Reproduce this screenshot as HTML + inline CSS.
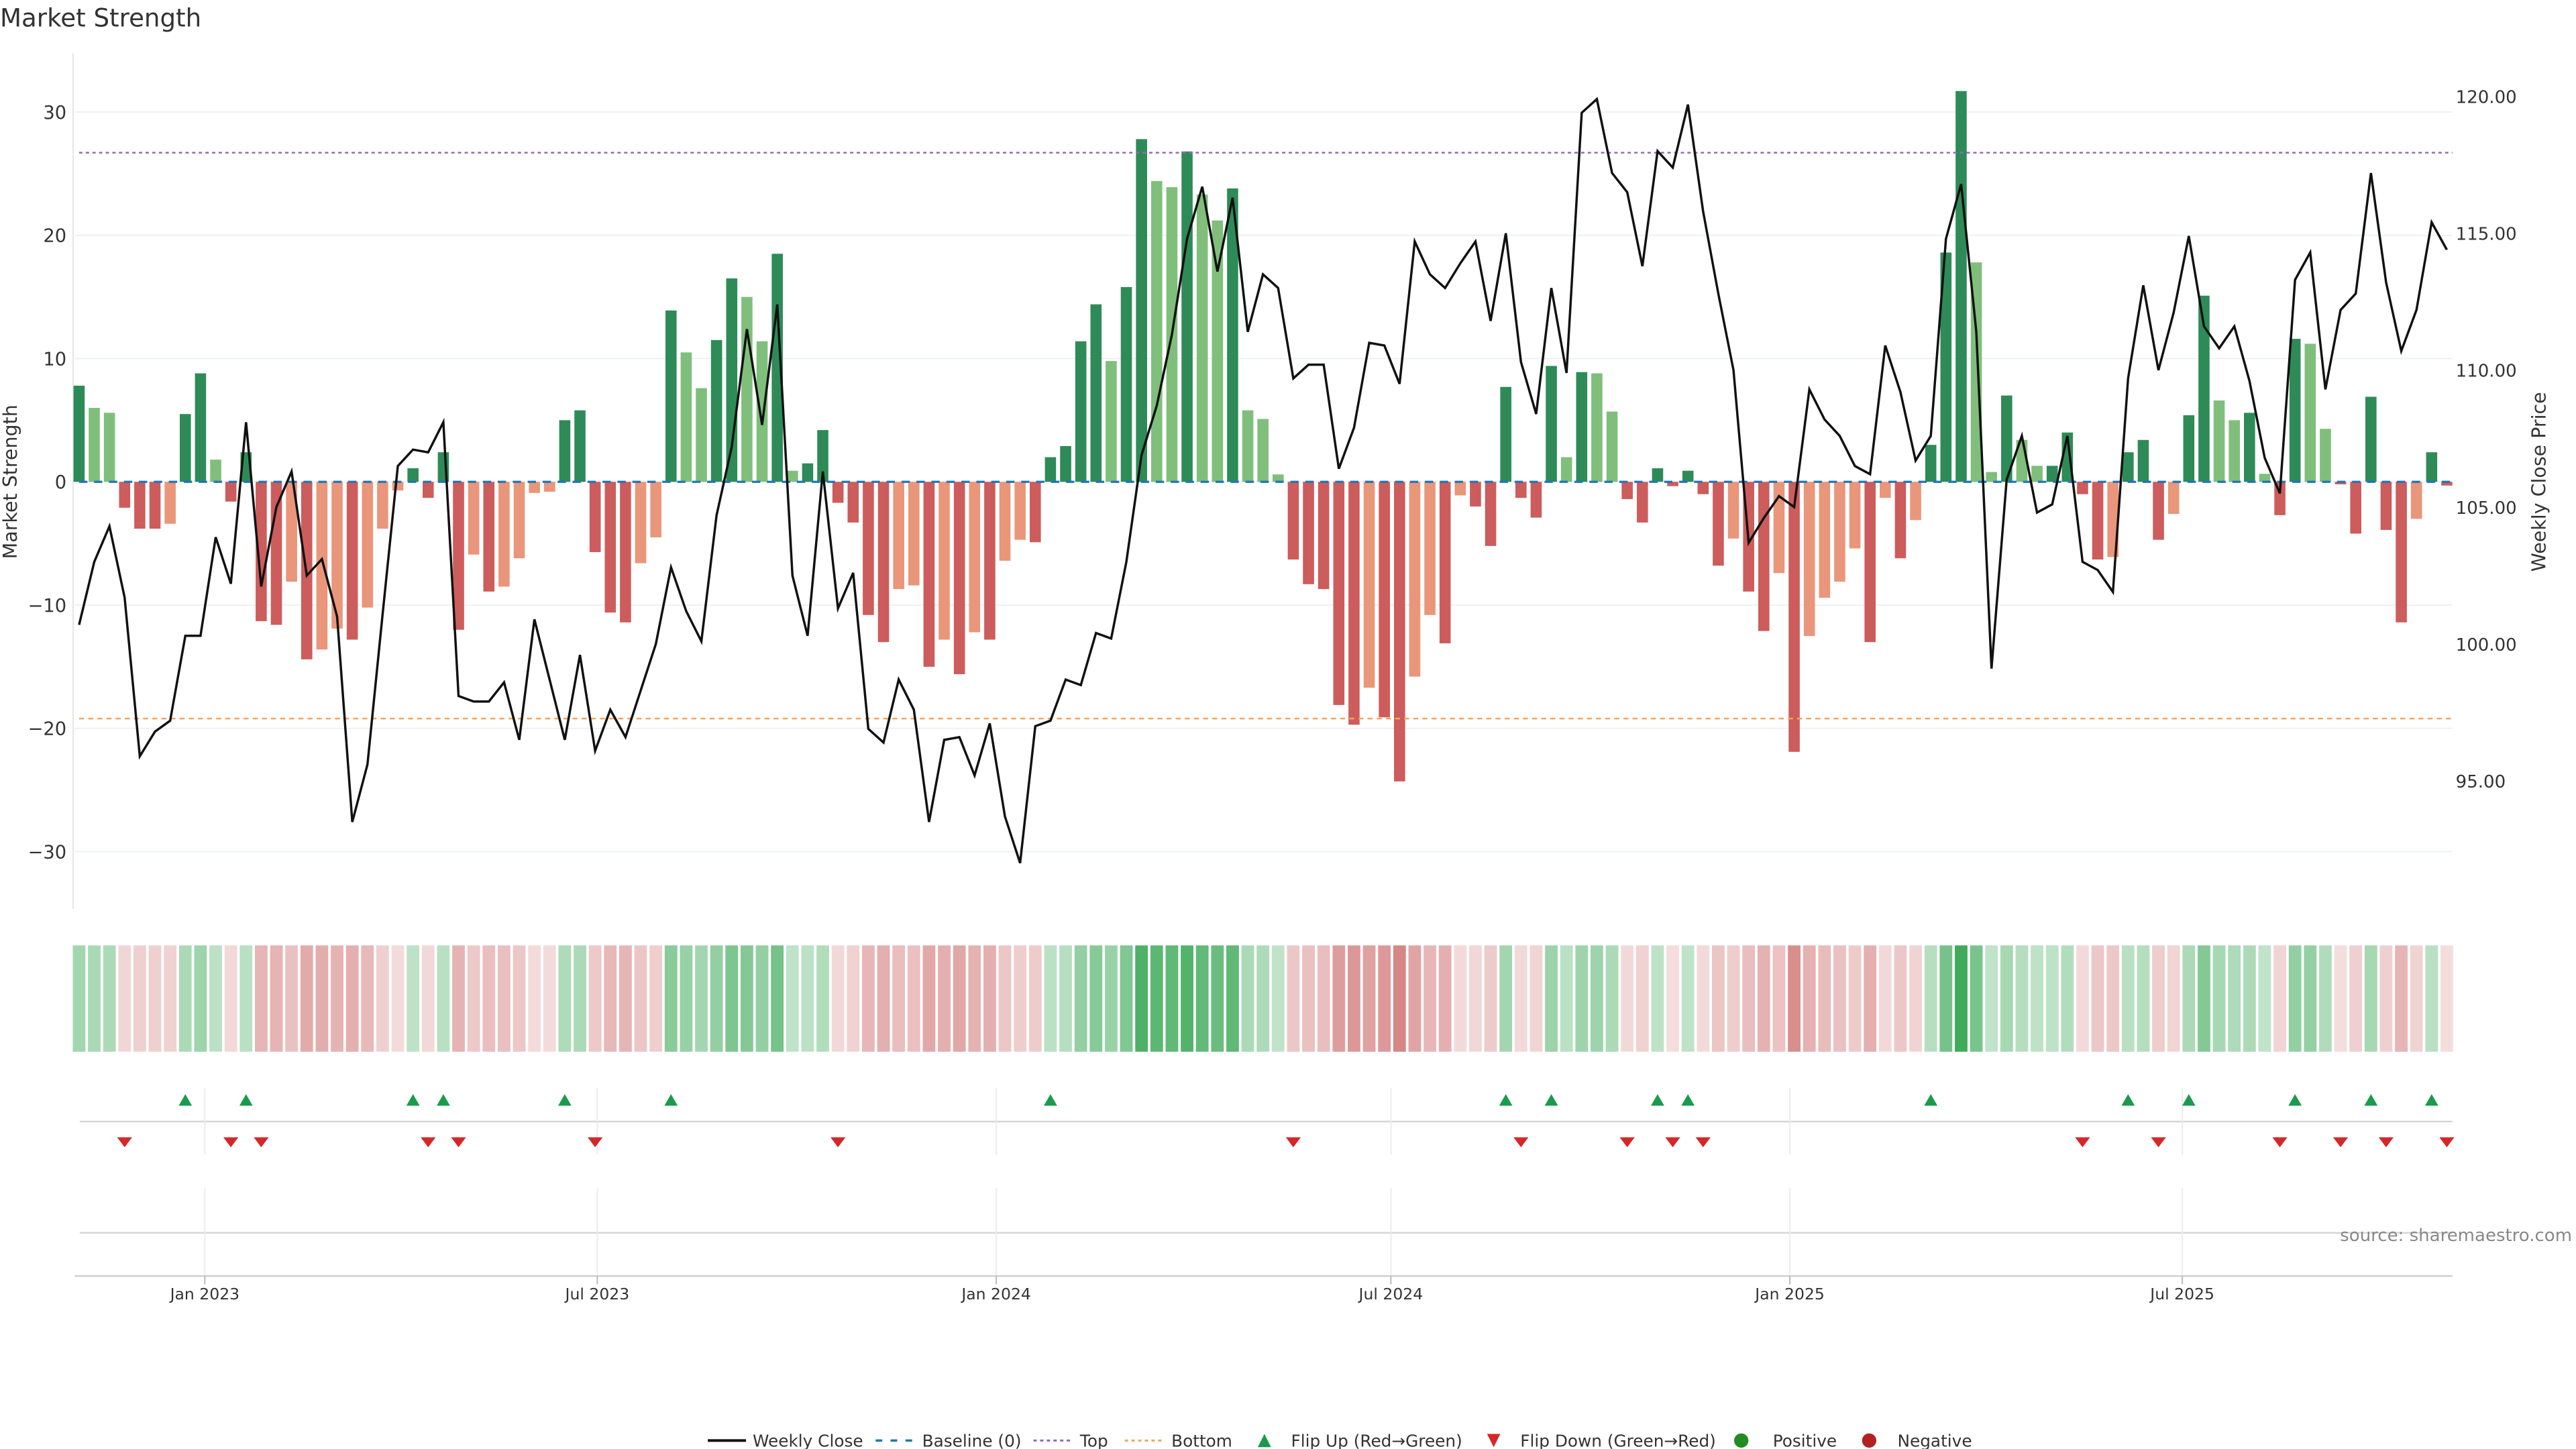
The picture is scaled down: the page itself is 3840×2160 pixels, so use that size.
<!DOCTYPE html>
<html><head><meta charset="utf-8"><title>Market Strength</title>
<style>
html,body{margin:0;padding:0;background:#fff;}
svg{display:block;font-family:"DejaVu Sans","Liberation Sans",sans-serif;}
</style></head>
<body>
<svg id="chart" width="3840" height="2160" viewBox="0 0 1550.4 872.1" preserveAspectRatio="none" xmlns="http://www.w3.org/2000/svg">
<text x="0" y="16" font-size="15" fill="#333">Market Strength</text>
<g id="grid"></g>
<g id="bars"></g>
<g id="lines"></g>
<g id="heat"></g>
<g id="flips"></g>
<g id="xaxis"></g>
<g id="legend"></g>
<text transform="translate(10,290) rotate(-90)" text-anchor="middle" font-size="11.5" fill="#333">Market Strength</text>
<text transform="translate(1532,290) rotate(-90)" text-anchor="middle" font-size="11.5" fill="#333">Weekly Close Price</text>
<text x="1548" y="747" text-anchor="end" font-size="10.5" fill="#888">source: sharemaestro.com</text>
</svg>
<script>
const startDate = "2022-11-04";
const strength = [7.8,6.0,5.6,-2.1,-3.8,-3.8,-3.4,5.5,8.8,1.8,-1.6,2.4,-11.3,-11.6,-8.1,-14.4,-13.6,-11.9,-12.8,-10.2,
-3.8,-0.7,1.1,-1.3,2.4,-12.0,-5.9,-8.9,-8.5,-6.2,-0.9,-0.8,5.0,5.8,-5.7,-10.6,-11.4,-6.6,-4.5,13.9,
10.5,7.6,11.5,16.5,15.0,11.4,18.5,0.9,1.5,4.2,-1.7,-3.3,-10.8,-13.0,-8.7,-8.4,-15.0,-12.8,-15.6,-12.2,
-12.8,-6.4,-4.7,-4.9,2.0,2.9,11.4,14.4,9.8,15.8,27.8,24.4,23.9,26.8,23.3,21.2,23.8,5.8,5.1,0.6,
-6.3,-8.3,-8.7,-18.1,-19.7,-16.7,-19.1,-24.3,-15.8,-10.8,-13.1,-1.1,-2.0,-5.2,7.7,-1.3,-2.9,9.4,2.0,8.9,
8.8,5.7,-1.4,-3.3,1.1,-0.35,0.9,-1.0,-6.8,-4.6,-8.9,-12.1,-7.4,-21.9,-12.5,-9.4,-8.1,-5.4,-13.0,-1.3,
-6.2,-3.1,3.0,18.6,31.7,17.8,0.8,7.0,3.4,1.3,1.3,4.0,-1.0,-6.3,-6.1,2.4,3.4,-4.7,-2.6,5.4,
15.1,6.6,5.0,5.6,0.65,-2.7,11.6,11.2,4.3,-0.2,-4.2,6.9,-3.9,-11.4,-3.0,2.4,-0.3];
const barType = ("gllrrrs"+"gglrg"+"rrsrssrs"+"ssgrg"+"rsrssss"+"ggrrrssg"+
"llggllg"+"lgg"+"rrrr"+"ssrsrsrssr"+"gggglgg"+"llgllglll"+
"rrrrrsrrssrsrr"+"grrglgll"+"rrgrgrr"+"srrsrssssr"+
"srsggg"+"llgll"+"gg"+"rrsggrs"+"ggllglrgll"+"rrgrrsgr").split("");
const closes = [100.7,103.0,104.3,101.7,95.9,96.8,97.2,100.3,100.3,103.9,102.2,108.1,102.1,105.0,106.3,102.5,103.1,101.0,93.5,95.6,
101.1,106.5,107.1,107.0,108.1,98.1,97.9,97.9,98.6,96.5,100.9,98.7,96.5,99.6,96.1,97.6,96.6,98.3,100.0,102.8,
101.2,100.1,104.7,107.2,111.5,108.0,112.4,102.5,100.3,106.3,101.3,102.6,96.9,96.4,98.7,97.6,93.5,96.5,96.6,95.2,
97.1,93.7,92.0,97.0,97.2,98.7,98.5,100.4,100.2,103.0,106.9,108.7,111.3,114.8,116.7,113.6,116.3,111.4,113.5,113.0,
109.7,110.2,110.2,106.4,107.9,111.0,110.9,109.5,114.7,113.5,113.0,113.9,114.7,111.8,115.0,110.3,108.4,113.0,109.9,119.4,
119.9,117.2,116.5,113.8,118.0,117.4,119.7,115.8,112.8,110.0,103.7,104.6,105.4,105.0,109.3,108.2,107.6,106.5,106.2,110.9,
109.2,106.7,107.6,114.8,116.8,111.4,99.1,106.0,107.6,104.8,105.1,107.6,103.0,102.7,101.9,109.7,113.1,110.0,112.1,114.9,
111.6,110.8,111.6,109.6,106.8,105.5,113.3,114.3,109.3,112.2,112.8,117.2,113.2,110.7,112.2,115.4,114.4];
const leftTicks = [-30,-20,-10,0,10,20,30];
const rightTicks = [95,100,105,110,115,120];
const topLevel = 26.7;
const bottomLevel = -19.2;
const monthTicks = ["2023-01-01","2023-07-01","2024-01-01","2024-07-01","2025-01-01","2025-07-01"];
const monthLabels = ["Jan 2023","Jul 2023","Jan 2024","Jul 2024","Jan 2025","Jul 2025"];

const NS="http://www.w3.org/2000/svg";
function mk(tag,attrs,parent){const e=document.createElementNS(NS,tag);for(const k in attrs)e.setAttribute(k,attrs[k]);parent.appendChild(e);return e;}
const X0=47.6, STEP=9.135, PL=43, PR=1476;
const xi=i=>X0+STEP*i;
const t0=Date.parse(startDate);
const xd=d=>X0+STEP*((Date.parse(d)-t0)/86400000/7);
const yL=v=>290-v*7.42;
const yR=p=>58+(120-p)*16.48;
const colors={g:"#2e8b57",l:"#7fbf7b",r:"#cd5c5c",s:"#e9967a"};
const G=id=>document.getElementById(id);

// grid
const grid=G('grid');
leftTicks.forEach(t=>{
  const l=mk('line',{x1:PL+2,x2:PR,y1:yL(t),y2:yL(t),stroke:"#eef0f3","stroke-width":0.8},grid);
  
  
  const tx=mk('text',{x:40,y:yL(t)+4,"text-anchor":"end","font-size":11,fill:"#333"},grid);
  tx.textContent=t<0?"\u2212"+Math.abs(t):String(t);
  
  
});
rightTicks.forEach(t=>{
  const tx=mk('text',{x:1478,y:yR(t)+4,"font-size":10.5,fill:"#333"},grid);
  tx.textContent=t.toFixed(2);
  
  
});
const ax=mk('line',{x1:PL+1,x2:PL+1,y1:32,y2:547,stroke:"#e6e6e6","stroke-width":0.8},grid);



// bars
const bars=G('bars');
strength.forEach((v,i)=>{
  const y0=yL(0), y1=yL(v);
  const r=mk('rect',{x:xi(i)-3.35,width:6.7,y:Math.min(y0,y1),height:Math.abs(y1-y0),fill:colors[barType[i]]||(v>=0?colors.g:colors.r)},bars);
  
  
});

// reference lines + close
const lines=G('lines');
let e;
e=mk('line',{x1:X0,x2:PR,y1:yL(0),y2:yL(0),stroke:"#1f77b4","stroke-width":1.3,"stroke-dasharray":"5,4"},lines);


e=mk('line',{x1:X0,x2:PR,y1:yL(topLevel),y2:yL(topLevel),stroke:"#9467bd","stroke-width":1,"stroke-dasharray":"2,2"},lines);


e=mk('line',{x1:X0,x2:PR,y1:yL(bottomLevel),y2:yL(bottomLevel),stroke:"#f4a460","stroke-width":1,"stroke-dasharray":"3,2.5"},lines);


const pts=closes.map((p,i)=>xi(i).toFixed(2)+","+yR(p).toFixed(2)).join(" ");
e=mk('polyline',{points:pts,fill:"none",stroke:"#111","stroke-width":1.4,"stroke-linejoin":"miter"},lines);



// heatmap
const heat=G('heat');
strength.forEach((v,i)=>{
  let fill;
  if(v>=0){const a=Math.min(0.9,0.28+0.62*v/32);fill=`rgba(40,160,70,${a.toFixed(3)})`;}
  else{const a=Math.min(0.8,0.2+0.55*(-v)/25);fill=`rgba(200,90,90,${a.toFixed(3)})`;}
  const r=mk('rect',{x:xi(i)-3.8,width:7.6,y:569,height:64,fill:fill},heat);
  
  
});

// flip panel
const flips=G('flips');
e=mk('line',{x1:48,x2:PR,y1:675,y2:675,stroke:"#d6d6d6","stroke-width":1},flips);


e=mk('line',{x1:48,x2:PR,y1:742,y2:742,stroke:"#d6d6d6","stroke-width":1},flips);


monthTicks.forEach(d=>{
  const x=xd(d);
  let g=mk('line',{x1:x,x2:x,y1:655,y2:695,stroke:"#ececec","stroke-width":0.8},flips);
  
  
  g=mk('line',{x1:x,x2:x,y1:715,y2:768,stroke:"#ececec","stroke-width":0.8},flips);
  
  
});
for(let i=1;i<strength.length;i++){
  const a=strength[i-1],b=strength[i];
  const x=xi(i);
  if(a<0&&b>=0){
    const t=mk('polygon',{points:`${x-4},665.5 ${x+4},665.5 ${x},658.5`,fill:"#1a9b4b"},flips);
    
    
  } else if(a>=0&&b<0){
    const t=mk('polygon',{points:`${x-4.5},684.5 ${x+4.5},684.5 ${x},690.5`,fill:"#d62728"},flips);
    
    
  }
}

// x axis
const xa=G('xaxis');
e=mk('line',{x1:45,x2:PR,y1:768,y2:768,stroke:"#cfcfcf","stroke-width":1},xa);


monthTicks.forEach((d,k)=>{
  const x=xd(d);
  let t=mk('line',{x1:x,x2:x,y1:768,y2:773,stroke:"#bbb","stroke-width":0.8},xa);
  
  
  const tx=mk('text',{x:x,y:782,"text-anchor":"middle","font-size":9.5,fill:"#333"},xa);
  tx.textContent=monthLabels[k];
  
  
});

// legend
const lg=G('legend');
const ly=867;
function ltxt(x,s){const t=mk('text',{x:x,y:ly+3.6,"font-size":10,fill:"#333"},lg);t.textContent=s;}
e=mk('line',{x1:426,x2:449,y1:ly,y2:ly,stroke:"#111","stroke-width":1.6},lg);


ltxt(453,"Weekly Close");
e=mk('line',{x1:527,x2:550,y1:ly,y2:ly,stroke:"#1f77b4","stroke-width":1.4,"stroke-dasharray":"4,5"},lg);


ltxt(555,"Baseline (0)");
e=mk('line',{x1:622,x2:645,y1:ly,y2:ly,stroke:"#9467bd","stroke-width":1.2,"stroke-dasharray":"2,2"},lg);


ltxt(650,"Top");
e=mk('line',{x1:677,x2:700,y1:ly,y2:ly,stroke:"#f4a460","stroke-width":1.2,"stroke-dasharray":"2,2"},lg);


ltxt(705,"Bottom");
e=mk('polygon',{points:`757,${ly+4} 765,${ly+4} 761,${ly-4}`,fill:"#1a9b4b"},lg);


ltxt(777,"Flip Up (Red\u2192Green)");
e=mk('polygon',{points:`895,${ly-4} 903,${ly-4} 899,${ly+4}`,fill:"#d62728"},lg);


ltxt(915,"Flip Down (Green\u2192Red)");
e=mk('circle',{cx:1048,cy:ly,r:4.3,fill:"#228b22"},lg);


ltxt(1067,"Positive");
e=mk('circle',{cx:1125,cy:ly,r:4.3,fill:"#b22222"},lg);


ltxt(1142,"Negative");
</script>
</body></html>
